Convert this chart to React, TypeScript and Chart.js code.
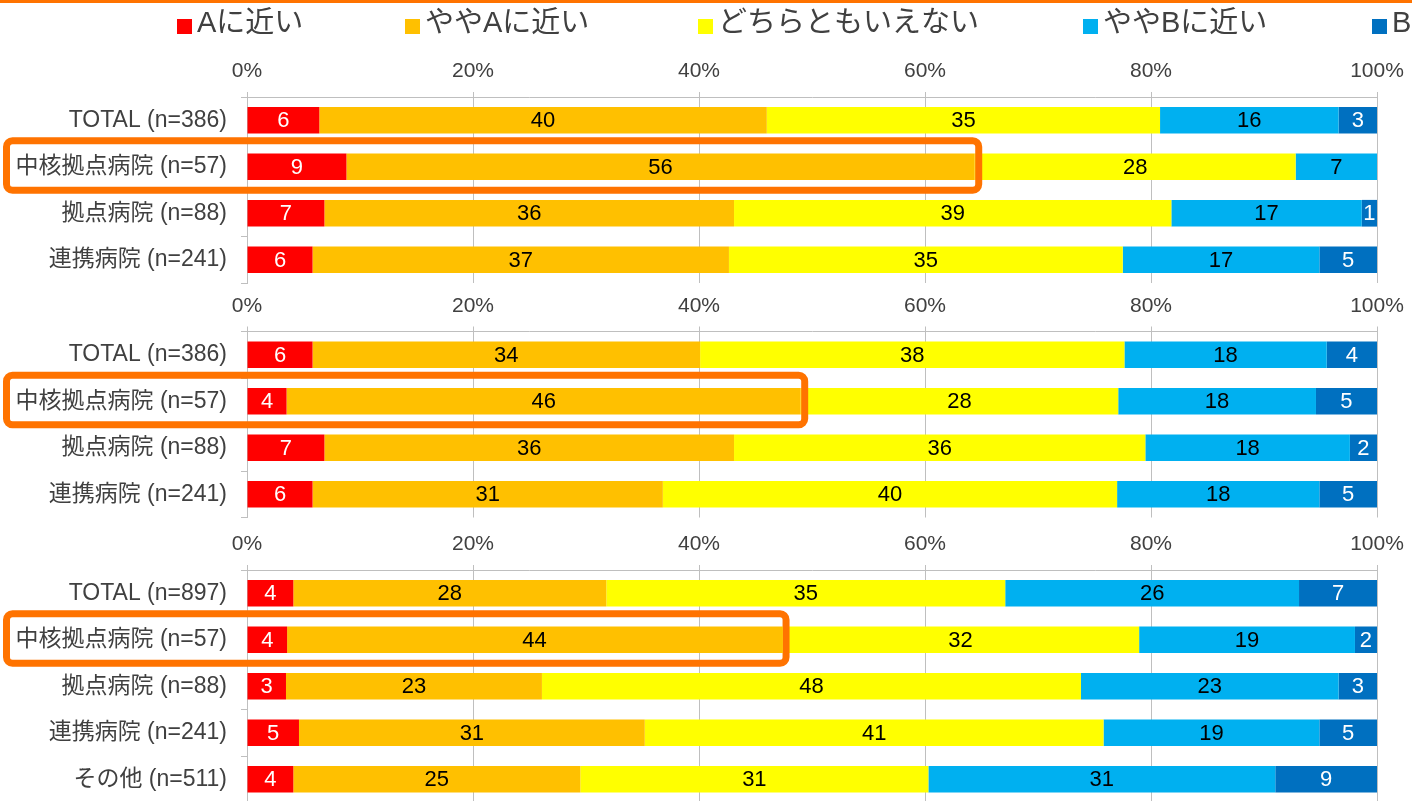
import React, { useEffect, useRef } from 'react';
import { Chart, registerables } from 'chart.js';

Chart.register(...registerables);

// ---- series / legend ----
const SERIES_LABELS = ['Aに近い', 'ややAに近い', 'どちらともいえない', 'ややBに近い', 'Bに近い'];
const SERIES_COLORS = ['#FF0000', '#FFC000', '#FFFF00', '#00B0F0', '#0070C0'];
const LABEL_COLORS = ['#FFFFFF', '#000000', '#000000', '#000000', '#FFFFFF'];
const X_TICK_STEP = 20;

// ---- panel 1 ----
const P1_CATEGORIES = ['TOTAL (n=386)', '中核拠点病院 (n=57)', '拠点病院 (n=88)', '連携病院 (n=241)'];
const P1_A = [6.4, 8.8, 6.85, 5.8];
const P1_SLIGHT_A = [39.6, 55.6, 36.25, 36.85];
const P1_NEUTRAL = [34.8, 28.4, 38.7, 34.85];
const P1_SLIGHT_B = [15.8, 7.2, 16.85, 17.4];
const P1_B = [3.4, 0, 1.35, 5.1];

// ---- panel 2 ----
const P2_CATEGORIES = ['TOTAL (n=386)', '中核拠点病院 (n=57)', '拠点病院 (n=88)', '連携病院 (n=241)'];
const P2_A = [5.8, 3.5, 6.85, 5.8];
const P2_SLIGHT_A = [34.3, 45.5, 36.25, 31.0];
const P2_NEUTRAL = [37.55, 28.1, 36.4, 40.2];
const P2_SLIGHT_B = [17.9, 17.5, 18.1, 17.9];
const P2_B = [4.45, 5.4, 2.4, 5.1];

// ---- panel 3 ----
const P3_CATEGORIES = ['TOTAL (n=897)', '中核拠点病院 (n=57)', '拠点病院 (n=88)', '連携病院 (n=241)', 'その他 (n=511)'];
const P3_A = [4.1, 3.55, 3.45, 4.6, 4.1];
const P3_SLIGHT_A = [27.7, 43.8, 22.65, 30.6, 25.4];
const P3_NEUTRAL = [35.3, 31.6, 47.7, 40.6, 30.8];
const P3_SLIGHT_B = [26.0, 19.1, 22.8, 19.1, 30.7];
const P3_B = [6.9, 1.95, 3.4, 5.1, 9.0];

const HIGHLIGHT_ROW = 1; // 中核拠点病院

// ---- layout / style ----
const FONT = '"Liberation Sans", Arial, "Noto Sans CJK JP", sans-serif';
const TEXT_GRAY = '#404040';
const GRID_GRAY = '#BFBFBF';
const ACCENT = '#FF7300';
const LEGEND_X = [177, 405, 698, 1083, 1372];

const decorPlugin = {
  id: 'panelDecor',
  afterDatasetsDraw(chart: any) {
    const ctx = chart.ctx;
    chart.data.datasets.forEach((ds: any, di: number) => {
      const meta = chart.getDatasetMeta(di);
      meta.data.forEach((el: any, i: number) => {
        const v = ds.data[i];
        if (!v) return;
        const { x, y, base } = el.getProps(['x', 'y', 'base'], true);
        ctx.save();
        ctx.font = `22px ${FONT}`;
        ctx.fillStyle = LABEL_COLORS[di];
        ctx.textAlign = 'center';
        ctx.textBaseline = 'middle';
        ctx.fillText(String(Math.round(v)), (x + base) / 2, y + 1);
        ctx.restore();
      });
    });
  },
  afterDraw(chart: any, _args: any, opts: any) {
    const ctx = chart.ctx;
    if (opts && opts.highlightRow != null) {
      const el = chart.getDatasetMeta(1).data[opts.highlightRow];
      const { x, y } = el.getProps(['x', 'y'], true);
      ctx.save();
      ctx.strokeStyle = ACCENT;
      ctx.lineWidth = 7;
      ctx.beginPath();
      const left = 6.5;
      ctx.roundRect(left, y - 26, x + 4 - left, 49.5, 6);
      ctx.stroke();
      ctx.restore();
    }
    if (opts && opts.legend) {
      ctx.save();
      ctx.fillStyle = ACCENT;
      ctx.fillRect(0, 0, chart.width, 3);
      chart.data.datasets.forEach((ds: any, i: number) => {
        const x = LEGEND_X[i];
        ctx.fillStyle = ds.backgroundColor;
        ctx.fillRect(x, 19, 15, 15);
        ctx.fillStyle = TEXT_GRAY;
        ctx.font = `29px ${FONT}`;
        ctx.textAlign = 'left';
        ctx.textBaseline = 'middle';
        ctx.fillText(ds.label, x + 20, 24);
      });
      ctx.restore();
    }
  },
};

type PanelProps = {
  categories: string[];
  series: number[][];
  top: number;
  height: number;
  padTop: number;
  padBottom: number;
  legend?: boolean;
};

function Panel({ categories, series, top, height, padTop, padBottom, legend }: PanelProps) {
  const ref = useRef<HTMLCanvasElement | null>(null);
  useEffect(() => {
    if (!ref.current) return;
    const chart = new Chart(ref.current, {
      type: 'bar',
      data: {
        labels: categories,
        datasets: SERIES_LABELS.map((label, i) => ({
          label,
          data: series[i],
          backgroundColor: SERIES_COLORS[i],
          borderWidth: 0,
          barPercentage: 1,
          categoryPercentage: 0.574,
        })),
      },
      options: {
        indexAxis: 'y',
        responsive: false,
        maintainAspectRatio: false,
        animation: false,
        devicePixelRatio: 1,
        layout: { padding: { top: padTop, right: 35, bottom: padBottom, left: 0 } },
        plugins: {
          legend: { display: false },
          tooltip: { enabled: false },
          panelDecor: { highlightRow: HIGHLIGHT_ROW, legend: !!legend },
        } as any,
        scales: {
          x: {
            type: 'linear',
            position: 'top',
            stacked: true,
            min: 0,
            max: 100,
            ticks: {
              stepSize: X_TICK_STEP,
              callback: (v: any) => v + '%',
              font: { family: FONT, size: 21 },
              color: TEXT_GRAY,
              padding: 8,
              maxRotation: 0,
            },
            grid: { color: GRID_GRAY, tickLength: 5, lineWidth: 1 },
            border: { color: GRID_GRAY },
            afterFit: (s: any) => {
              s.height = 45;
              s.paddingLeft = 0;
              s.paddingRight = 0;
            },
          },
          y: {
            type: 'category',
            stacked: true,
            offset: true,
            grid: { offset: true, drawOnChartArea: false, tickLength: 6, color: GRID_GRAY },
            border: { color: GRID_GRAY },
            ticks: { font: { family: FONT, size: 23 }, color: TEXT_GRAY, padding: 14, autoSkip: false },
            afterFit: (s: any) => {
              s.width = 247;
              s.paddingTop = 0;
              s.paddingBottom = 0;
            },
          },
        },
      } as any,
      plugins: [decorPlugin as any],
    });
    return () => chart.destroy();
  }, []);
  return (
    <canvas
      ref={ref}
      width={1412}
      height={height}
      style={{ position: 'absolute', left: 0, top, width: 1412, height }}
    />
  );
}

export default function App() {
  useEffect(() => {
    document.body.style.margin = '0';
  }, []);
  return (
    <div style={{ position: 'relative', width: 1412, height: 801, overflow: 'hidden', background: '#fff' }}>
      <Panel
        categories={P1_CATEGORIES}
        series={[P1_A, P1_SLIGHT_A, P1_NEUTRAL, P1_SLIGHT_B, P1_B]}
        top={0}
        height={290}
        padTop={52}
        padBottom={7}
        legend
      />
      <Panel
        categories={P2_CATEGORIES}
        series={[P2_A, P2_SLIGHT_A, P2_NEUTRAL, P2_SLIGHT_B, P2_B]}
        top={283}
        height={241}
        padTop={3.5}
        padBottom={6.5}
      />
      <Panel
        categories={P3_CATEGORIES}
        series={[P3_A, P3_SLIGHT_A, P3_NEUTRAL, P3_SLIGHT_B, P3_B]}
        top={520}
        height={284}
        padTop={5}
        padBottom={1.5}
      />
    </div>
  );
}
